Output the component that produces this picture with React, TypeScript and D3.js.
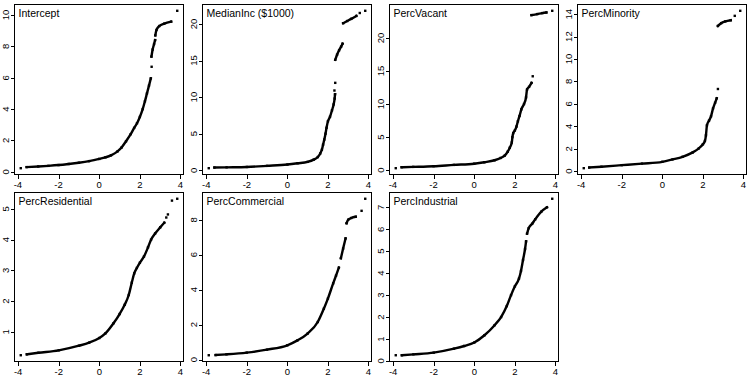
import React from 'react'
import { scaleLinear, extent, line, curveMonotoneX } from 'd3'

type Pt = [number, number]

// each run is a set of consecutive sorted points: [normal quantile, value]
// single-point runs are the loose dots in the tails
const interceptRuns: Pt[][] = [
  [[-3.86, 0.23]],
  [[-3.57, 0.30], [-3, 0.34], [-2.5, 0.38], [-2, 0.43], [-1.5, 0.5], [-1, 0.58], [-0.5, 0.68], [0, 0.82],
   [0.3, 0.92], [0.58, 1.05], [0.9, 1.3], [1.1, 1.55], [1.32, 1.95], [1.55, 2.4], [1.72, 2.8], [1.86, 3.1],
   [2.0, 3.5], [2.14, 4.0], [2.25, 4.5], [2.35, 5.0], [2.45, 5.5], [2.54, 5.96]],
  [[2.58, 6.7]],
  [[2.57, 7.35], [2.63, 7.8], [2.7, 8.15], [2.75, 8.4]],
  [[2.76, 8.7], [2.82, 9.05], [2.96, 9.3], [3.2, 9.45], [3.54, 9.58]],
  [[3.84, 10.27]],
]

const medianIncRuns: Pt[][] = [
  [[-3.88, 0.28]],
  [[-3.6, 0.37], [-3, 0.4], [-2, 0.45], [-1, 0.6], [0, 0.78], [0.5, 0.95], [1, 1.15], [1.3, 1.45], [1.5, 1.8],
   [1.62, 2.3], [1.7, 2.8], [1.76, 3.5], [1.82, 4.2], [1.88, 5.0], [1.93, 5.8], [2.0, 6.7], [2.1, 7.3],
   [2.2, 8.2], [2.28, 9.0], [2.33, 9.8], [2.35, 10.4]],
  [[2.32, 10.9]],
  [[2.36, 11.95]],
  [[2.36, 15.1], [2.45, 15.8], [2.55, 16.4], [2.65, 16.9], [2.72, 17.3]],
  [[2.75, 20.1], [2.95, 20.4], [3.15, 20.7], [3.4, 21.1]],
  [[3.57, 21.5]],
  [[3.84, 21.8]],
]

const percVacantRuns: Pt[][] = [
  [[-3.86, 0.3]],
  [[-3.57, 0.45], [-3, 0.5], [-2, 0.6], [-1, 0.8], [0, 0.98], [0.5, 1.2], [1, 1.5], [1.3, 1.85], [1.5, 2.2],
   [1.65, 2.8], [1.75, 3.4], [1.85, 4.2], [1.88, 5.0], [1.92, 5.6], [2.0, 6.0], [2.08, 6.6], [2.15, 7.4],
   [2.23, 8.2], [2.32, 9.2], [2.45, 10.0], [2.55, 11.0], [2.6, 12.2], [2.7, 12.6], [2.82, 13.2]],
  [[2.88, 14.2]],
  [[2.82, 23.45], [3.1, 23.6], [3.35, 23.75], [3.55, 23.85]],
  [[3.84, 24.1]],
]

const percMinorityRuns: Pt[][] = [
  [[-3.87, 0.27]],
  [[-3.6, 0.33], [-3, 0.4], [-2, 0.54], [-1, 0.68], [0, 0.84], [0.5, 1.05], [1, 1.29], [1.5, 1.68], [1.8, 2.04],
   [2.0, 2.4], [2.1, 2.7], [2.15, 3.2], [2.2, 4.1], [2.3, 4.5], [2.4, 4.9], [2.5, 5.6], [2.6, 6.1], [2.68, 6.5]],
  [[2.74, 7.33]],
  [[2.74, 12.95], [2.9, 13.2], [3.1, 13.35], [3.37, 13.46]],
  [[3.57, 13.85]],
  [[3.84, 14.3]],
]

const percResidentialRuns: Pt[][] = [
  [[-3.87, 0.24]],
  [[-3.57, 0.27], [-3, 0.32], [-2, 0.4], [-1, 0.55], [-0.5, 0.65], [0, 0.8], [0.3, 0.95], [0.7, 1.28],
   [1.0, 1.58], [1.25, 1.88], [1.45, 2.2], [1.6, 2.6], [1.72, 2.9], [1.85, 3.08], [2.0, 3.25], [2.2, 3.45],
   [2.4, 3.75], [2.55, 4.0], [2.75, 4.2], [3.0, 4.4], [3.2, 4.55]],
  [[3.3, 4.72]],
  [[3.38, 4.82]],
  [[3.58, 5.27]],
  [[3.84, 5.33]],
]

const percCommercialRuns: Pt[][] = [
  [[-3.87, 0.25]],
  [[-3.53, 0.26], [-3, 0.3], [-2, 0.4], [-1, 0.57], [0, 0.82], [0.5, 1.1], [1, 1.49], [1.5, 2.15], [1.8, 2.91],
   [2.0, 3.49], [2.26, 4.36], [2.4, 4.8], [2.54, 5.26]],
  [[2.64, 5.8], [2.75, 6.35], [2.87, 6.93]],
  [[2.92, 7.8], [3.0, 8.0], [3.15, 8.1], [3.37, 8.17]],
  [[3.66, 8.51]],
  [[3.84, 9.2]],
]

const percIndustrialRuns: Pt[][] = [
  [[-3.87, 0.26]],
  [[-3.57, 0.26], [-3, 0.3], [-2, 0.38], [-1, 0.56], [-0.5, 0.68], [0, 0.84], [0.5, 1.17], [1, 1.63],
   [1.32, 2.0], [1.6, 2.5], [1.81, 3.0], [2.0, 3.4], [2.2, 3.75], [2.3, 4.1], [2.4, 4.6], [2.5, 5.1], [2.55, 5.45]],
  [[2.6, 5.8], [2.68, 6.05], [2.85, 6.25], [3.0, 6.45], [3.3, 6.8], [3.58, 7.0]],
  [[3.84, 7.39]],
]

const titles = ['Intercept', 'MedianInc ($1000)', 'PercVacant', 'PercMinority', 'PercResidential', 'PercCommercial', 'PercIndustrial']
const xTicks = [-4, -2, 0, 2, 4]
const yTickSets = [
  [0, 2, 4, 6, 8, 10],
  [0, 5, 10, 15, 20],
  [0, 5, 10, 15, 20],
  [0, 2, 4, 6, 8, 10, 12, 14],
  [1, 2, 3, 4, 5],
  [0, 2, 4, 6, 8],
  [0, 1, 2, 3, 4, 5, 6, 7],
]
const allRuns = [interceptRuns, medianIncRuns, percVacantRuns, percMinorityRuns, percResidentialRuns, percCommercialRuns, percIndustrialRuns]

const width = 750
const height = 375
const cellW = width / 4
const cellH = height / 2
const margin = { top: 4, right: 4.5, bottom: 14, left: 14 }
const font = 'Arial, "Liberation Sans", sans-serif'

// R style: data range padded by 4% on each side
function padded(vals: number[]): [number, number] {
  const [lo, hi] = extent(vals) as [number, number]
  const d = (hi - lo) * 0.04
  return [lo - d, hi + d]
}

function Panel({ idx }: { idx: number }) {
  const runs = allRuns[idx]
  const pts = runs.flat()
  const col = idx % 4
  const row = Math.floor(idx / 4)
  const x0 = Math.round(col * cellW + margin.left) + 0.5
  const x1 = Math.round((col + 1) * cellW - margin.right) + 0.5
  const y0 = Math.round(row * cellH + margin.top) + 0.5
  const y1 = Math.round((row + 1) * cellH - margin.bottom) + 0.5

  const xScale = scaleLinear().domain(padded(pts.map(d => d[0]))).range([x0, x1])
  const yScale = scaleLinear().domain(padded(pts.map(d => d[1]))).range([y1, y0])
  const path = line<Pt>().x(d => xScale(d[0])).y(d => yScale(d[1])).curve(curveMonotoneX)

  return (
    <g>
      <rect x={x0} y={y0} width={x1 - x0} height={y1 - y0} fill="none" stroke="#000" strokeWidth={1} shapeRendering="crispEdges" />
      {xTicks.map(t => (
        <g key={'x' + t}>
          <line x1={Math.round(xScale(t)) + 0.5} x2={Math.round(xScale(t)) + 0.5} y1={y1} y2={y1 + 4} stroke="#000" shapeRendering="crispEdges" />
          <text x={xScale(t)} y={y1 + 13} fontSize={9.5} fontFamily={font} textAnchor="middle">{t}</text>
        </g>
      ))}
      {yTickSets[idx].map(t => (
        <g key={'y' + t}>
          <line x1={x0 - 4} x2={x0} y1={Math.round(yScale(t)) + 0.5} y2={Math.round(yScale(t)) + 0.5} stroke="#000" shapeRendering="crispEdges" />
          <text transform={`translate(${x0 - 8.5},${yScale(t)}) rotate(-90)`} fontSize={9.5} fontFamily={font} textAnchor="middle" dy="0.35em">{t}</text>
        </g>
      ))}
      {runs.filter(r => r.length > 1).map((r, i) => (
        <path key={'r' + i} d={path(r) || ''} fill="none" stroke="#000" strokeWidth={2.4} strokeLinejoin="round" strokeLinecap="square" />
      ))}
      {pts.map((d, i) => (
        <rect key={'p' + i} x={xScale(d[0]) - 1.2} y={yScale(d[1]) - 1.2} width={2.4} height={2.4} fill="#000" />
      ))}
      <text x={x0 + 4} y={y0 + 12.8} fontSize={10.5} fontFamily={font}>{titles[idx]}</text>
    </g>
  )
}

export default function App() {
  return (
    <svg width={width} height={height} style={{ position: 'absolute', left: 0, top: 0, background: '#fff' }}>
      {titles.map((_, i) => <Panel key={i} idx={i} />)}
    </svg>
  )
}
